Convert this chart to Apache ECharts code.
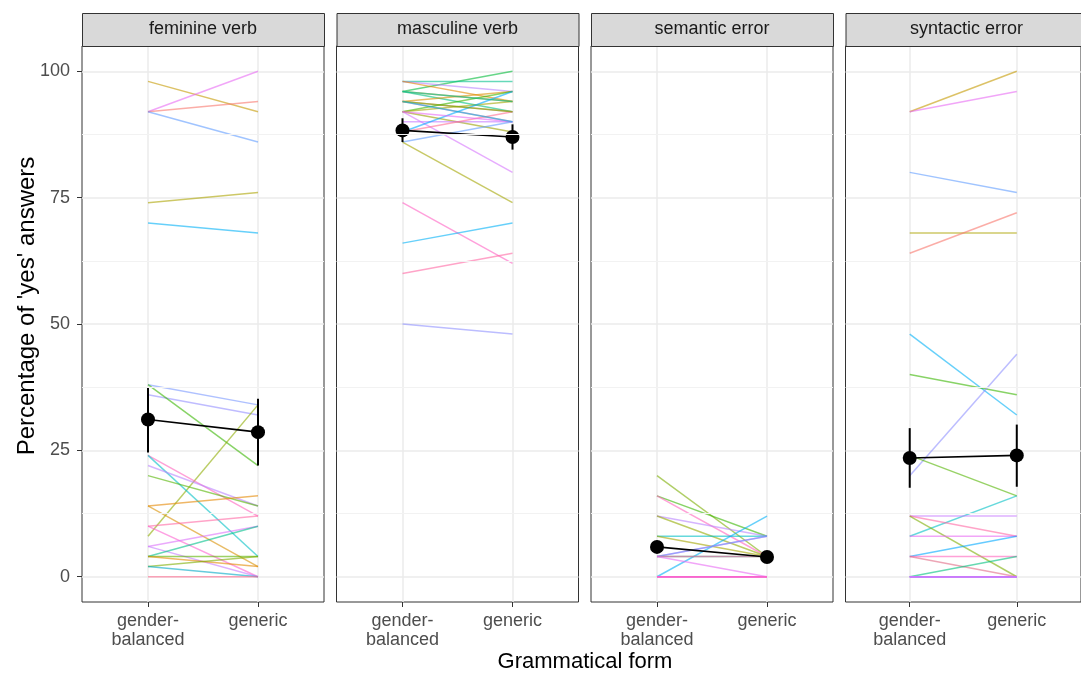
<!DOCTYPE html>
<html><head><meta charset="utf-8">
<script src="https://cdn.jsdelivr.net/npm/echarts@6/dist/echarts.min.js"></script>
<style>html,body{margin:0;padding:0;background:#fff}#c{width:1081px;height:673px}</style>
</head><body><div id="c"></div>
<script>
// ---- data ----
const panels = ['feminine verb', 'masculine verb', 'semantic error', 'syntactic error'];
const formLabels = ['gender-\nbalanced', 'generic'];
const yTicks = [0, 25, 50, 75, 100];
const yMinor = [12.5, 37.5, 62.5, 87.5];
const yTitle = "Percentage of 'yes' answers";
const xTitle = 'Grammatical form';

// per-participant percentages: gender-balanced -> generic
const femGB  = [98, 92, 92, 92, 74, 70, 38, 36, 38, 8, 24, 24, 22, 20, 14, 14, 10, 10, 6, 6, 4, 4, 4, 2, 2, 0];
const femGen = [92, 100, 94, 86, 76, 68, 34, 32, 22, 34, 12, 4, 14, 14, 16, 2, 12, 0, 10, 0, 10, 4, 2, 4, 0, 0];

const mascGB  = [96, 98, 98, 98, 96, 96, 94, 94, 94, 92, 92, 92, 90, 92, 88, 88, 86, 86, 74, 66, 60, 50, 92, 96, 94, 94];
const mascGen = [100, 98, 96, 94, 94, 92, 96, 90, 92, 96, 94, 88, 90, 80, 96, 92, 90, 74, 62, 70, 64, 48, 90, 94, 92, 90];

const semGB  = [20, 16, 16, 12, 12, 8, 8, 0, 4, 4, 4, 4, 4, 0, 0, 0, 0, 0, 0];
const semGen = [4, 8, 4, 8, 4, 8, 4, 12, 8, 8, 4, 4, 0, 0, 0, 0, 0, 0, 0];

const synGB  = [92, 92, 80, 68, 64, 48, 40, 20, 24, 8, 12, 12, 12, 8, 4, 4, 4, 0, 0, 0, 0, 0, 0, 0, 0];
const synGen = [100, 96, 76, 68, 72, 32, 36, 44, 16, 16, 12, 8, 0, 8, 8, 4, 0, 4, 0, 0, 0, 0, 0, 0, 0];

// means and error bars per panel: [gender-balanced, generic]
const meanGB  = [31.1, 88.3, 5.9, 23.5];
const meanGen = [28.6, 87.0, 3.9, 24.0];
const loGB  = [24.6, 86.0, 4.8, 17.6];
const hiGB  = [37.5, 90.7, 7.1, 29.4];
const loGen = [22.0, 84.5, 3.0, 17.8];
const hiGen = [35.2, 89.5, 4.9, 30.1];

// ---- styles ----
const femCol  = ['#C49A00','#E76BF3','#F8766D','#619CFF','#ABA300','#00B0F6','#7997FF','#9590FF','#39B600','#8EAB00','#FF62BC','#00BFC4','#B983FF','#53B400','#E58700','#D89000','#FF67A4','#FD61D1','#DC71FA','#C77CFF','#00C08B','#5BB300','#E38900','#7CAE00','#00A9C4','#FF6C91'];
const mascCol = ['#00BA38','#00C08B','#B983FF','#E58700','#C99800','#00BF7D','#D89000','#FF62BC','#F8766D','#39B600','#A3A500','#9A9E00','#C77CFF','#D575FE','#00A9FF','#FF6C91','#619CFF','#A3A500','#FF61C3','#00B0F6','#FF67A4','#8F91FF','#E76BF3','#00C1A3','#6BB100','#00BCD8'];
const semCol  = ['#7CAE00','#39B600','#FF62BC','#B983FF','#93AA00','#00BFC4','#A3A500','#00B0F6','#E76BF3','#619CFF','#00BA38','#FF61C3','#E76BF3','#FF61C3','#E76BF3','#F564E3','#FF67A4','#E76BF3','#FF61C3'];
const synCol  = ['#C49A00','#E76BF3','#619CFF','#ABA300','#F8766D','#00B0F6','#39B600','#8F91FF','#53B400','#00BFC4','#C77CFF','#FF67A4','#7CAE00','#E76BF3','#00A9FF','#FF62BC','#E16A86','#00BF7D','#9590FF','#C77CFF','#B983FF','#DB72FB','#A58AFF','#E76BF3','#C77CFF'];

const FONT = "'Liberation Sans', Arial, Helvetica, sans-serif";
const lefts = [82, 336.5, 591, 845.5];
const PW = 242, TOP = 46, PH = 556;

const grids = [], xAxes = [], yAxes = [], series = [], graphics = [];
const allGB = [femGB, mascGB, semGB, synGB];
const allGen = [femGen, mascGen, semGen, synGen];
const allCol = [femCol, mascCol, semCol, synCol];

for (let i = 0; i < 4; i++) {
  grids.push({left: lefts[i], top: TOP, width: PW, height: PH, show: true,
    backgroundColor: '#fff', borderColor: '#333333', borderWidth: 1, containLabel: false});
  xAxes.push({type: 'value', gridIndex: i, min: -0.6, max: 1.6,
    axisLine: {show: false, onZero: false},
    axisTick: {show: true, customValues: [0, 1], length: 5, lineStyle: {color: '#333333', width: 1}},
    axisLabel: {show: true, customValues: [0, 1], formatter: v => formLabels[Math.round(v)],
      color: '#4D4D4D', fontSize: 18, fontFamily: FONT, lineHeight: 19, margin: 10},
    splitLine: {show: true, lineStyle: {color: '#EBEBEB', width: 1.5}}});
  yAxes.push({type: 'value', gridIndex: i, min: -5, max: 105,
    axisLine: {show: false, onZero: false},
    axisTick: {show: i === 0, customValues: yTicks, length: 5, lineStyle: {color: '#333333', width: 1}},
    axisLabel: {show: i === 0, customValues: yTicks, color: '#4D4D4D', fontSize: 18, fontFamily: FONT, margin: 12},
    splitLine: {show: true, lineStyle: {color: '#EBEBEB', width: 1.5}}});

  // minor horizontal grid lines
  series.push({type: 'line', xAxisIndex: i, yAxisIndex: i, data: [], z: 1, silent: true,
    markLine: {silent: true, symbol: 'none', label: {show: false}, animation: false,
      lineStyle: {color: '#F2F2F2', width: 1, type: 'solid'},
      data: yMinor.map(v => ({yAxis: v}))}});

  const gb = allGB[i], gen = allGen[i], col = allCol[i];
  for (let k = 0; k < gb.length; k++) {
    series.push({type: 'line', xAxisIndex: i, yAxisIndex: i, symbol: 'none', silent: true, z: 2,
      data: [[0, gb[k]], [1, gen[k]]],
      lineStyle: {color: col[k], width: 1.5, opacity: 0.6}});
  }
  // error bars
  series.push({type: 'line', xAxisIndex: i, yAxisIndex: i, symbol: 'none', silent: true, z: 3,
    data: [[0, loGB[i]], [0, hiGB[i]]], lineStyle: {color: '#000', width: 2}});
  series.push({type: 'line', xAxisIndex: i, yAxisIndex: i, symbol: 'none', silent: true, z: 3,
    data: [[1, loGen[i]], [1, hiGen[i]]], lineStyle: {color: '#000', width: 2}});
  // mean line + points
  series.push({type: 'line', xAxisIndex: i, yAxisIndex: i, symbol: 'circle', symbolSize: 14, silent: true, z: 4,
    data: [[0, meanGB[i]], [1, meanGen[i]]],
    lineStyle: {color: '#000', width: 1.6}, itemStyle: {color: '#000', borderWidth: 0}});

  // strip
  graphics.push({type: 'rect', left: lefts[i], top: 13, z: 10,
    shape: {width: PW, height: 33},
    style: {fill: '#D9D9D9', stroke: '#333333', lineWidth: 1}});
  graphics.push({type: 'text', x: lefts[i] + PW / 2, y: 29.5, z: 11,
    style: {text: panels[i], fill: '#1A1A1A', font: '18px ' + FONT, textAlign: 'center', textVerticalAlign: 'middle'}});
}
graphics.push({type: 'text', x: 585, y: 662, z: 11,
  style: {text: xTitle, fill: '#000', font: '22px ' + FONT, textAlign: 'center', textVerticalAlign: 'middle'}});
graphics.push({type: 'text', x: 27, y: 306, rotation: Math.PI / 2, z: 11,
  style: {text: yTitle, fill: '#000', font: '24px ' + FONT, textAlign: 'center', textVerticalAlign: 'middle'}});

const chart = echarts.init(document.getElementById('c'), null, {renderer: 'canvas'});
chart.setOption({
  animation: false,
  backgroundColor: '#fff',
  grid: grids, xAxis: xAxes, yAxis: yAxes, series: series, graphic: graphics
});
</script></body></html>
